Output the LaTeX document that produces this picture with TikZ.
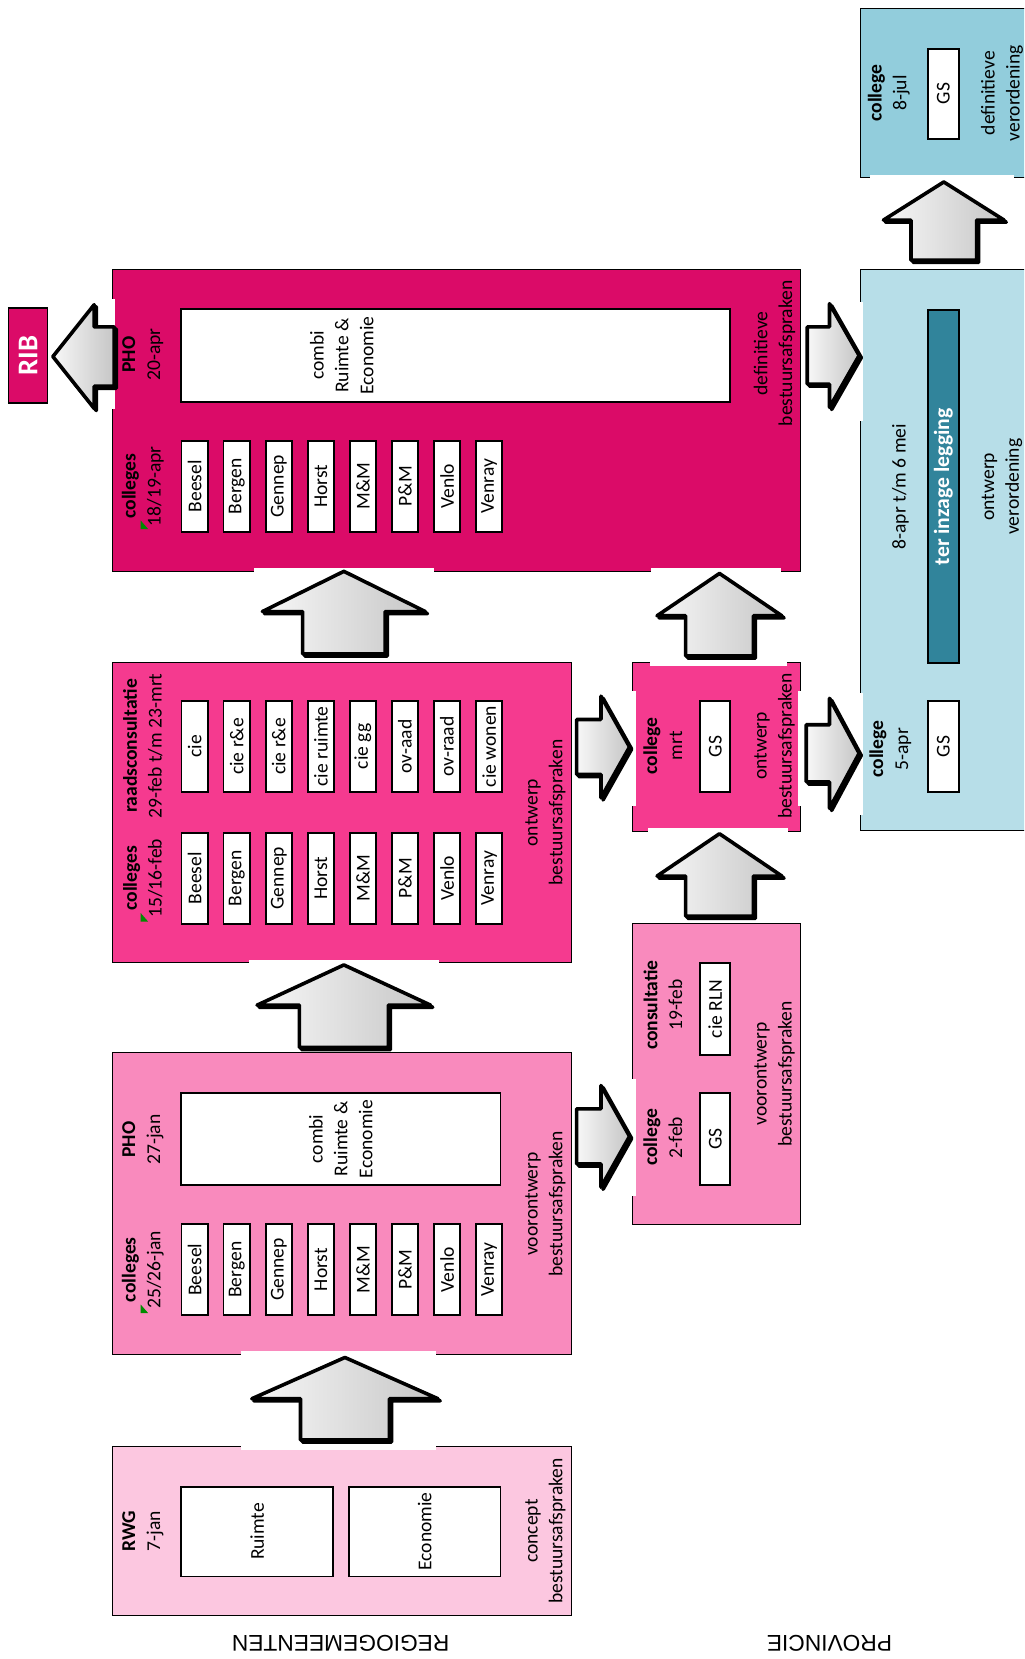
\documentclass[tikz,border=0pt]{standalone}
\usepackage{fontspec}
\setmainfont{Carlito}
\newfontfamily\headfont{Liberation Sans}
\definecolor{defmag}{RGB}{219,11,104}
\definecolor{ontwpink}{RGB}{245,58,143}
\definecolor{voorpink}{RGB}{249,138,189}
\definecolor{conceptpink}{RGB}{252,199,224}
\definecolor{ontwblue}{RGB}{183,222,232}
\definecolor{defblue}{RGB}{146,205,220}
\definecolor{inzageteal}{RGB}{49,132,155}

\begin{document}
\begin{tikzpicture}[x=1pt,y=-1pt,
  font=\fontsize{18.5}{23.5}\selectfont,
  phase/.style={draw, line width=0.9pt, inner sep=0pt},
  cell/.style={draw, fill=white, line width=1.8pt, rotate=90, inner sep=0pt,
    minimum width=86pt, minimum height=25pt},
  lbl/.style={rotate=90, align=center, inner sep=0pt},
  blockarrow/.style={draw, line width=3.4pt, line join=round,
    left color=gray!6, right color=gray!45},
  arrowshadow/.style={draw, fill, line width=3.4pt, line join=round, shift={(2,2)}},
  sidehead/.style={rotate=180, font=\headfont\fontsize{21.5}{24}\selectfont}]

\clip (0,0) rectangle (968,1568);

% phase blocks
\node[phase, fill=defmag, minimum width=651pt, minimum height=285pt] (defin) at (431.5,397.5) {};
\node[phase, fill=ontwpink, minimum width=434pt, minimum height=284pt] (ontw) at (323,768) {};
\node[phase, fill=voorpink, minimum width=434pt, minimum height=285pt] (voor) at (323,1137.5) {};
\node[phase, fill=conceptpink, minimum width=434pt, minimum height=160pt] (concept) at (323,1447) {};
\node[phase, fill=ontwpink, minimum width=159pt, minimum height=160pt] (gsmrt) at (677.5,706) {};
\node[phase, fill=voorpink, minimum width=159pt, minimum height=284pt] (gsfeb) at (677.5,1015) {};
\node[phase, fill=ontwblue, minimum width=200pt, minimum height=530pt] (inzage) at (913,520) {};
\node[phase, fill=defblue, minimum width=200pt, minimum height=160pt] (gsjul) at (913,88) {};
\node[phase, fill=defmag, minimum width=37pt, minimum height=89pt] (rib) at (26.5,336) {};
\draw[line width=2.6pt] (rib.north west) -- (rib.north east) (rib.south west) -- (rib.south east);

% openings in the borders where the arrows pass
\foreach \xa/\ya/\xb/\yb in {240/537/410/543, 615/537/738/543, 103/283/109/387,
  810/285/816/398, 810/655/816/770, 822/165/958/171, 235/907/415/913,
  614/623/744/629, 612/783/745/789, 595/653/601/762, 754/653/760/762,
  595/1020/601/1130, 228/1277/412/1283, 228/1364/412/1370}
  \fill[white] (\xa,\ya) rectangle (\xb,\yb);

% upward arrows: centre / tip / head / shaft / head base / tail
\foreach \cx/\ty/\hw/\sw/\hb/\by in {892/172/57/31/208/246, 325/540/77/39/578/618,
  680/542/59/32/582/620, 325/912/82/42/950/990, 680/788/59/32/828/866,
  326/1283/88/42/1322/1361}
{
  \path[arrowshadow] (\cx,\ty) -- (\cx+\hw,\hb) -- (\cx+\sw,\hb) -- (\cx+\sw,\by)
    -- (\cx-\sw,\by) -- (\cx-\sw,\hb) -- (\cx-\hw,\hb) -- cycle;
  \path[blockarrow] (\cx,\ty) -- (\cx+\hw,\hb) -- (\cx+\sw,\hb) -- (\cx+\sw,\by)
    -- (\cx-\sw,\by) -- (\cx-\sw,\hb) -- (\cx-\hw,\hb) -- cycle;
}
% sideways arrows: tip / centre / head / shaft / head base / tail
\foreach \tx/\cy/\hh/\sh/\hb/\bx in {812/336/49/27/784/763, 595/706/48/26/568/545,
  812/712/52/27/784/762, 595/1074/48/26/568/545, 50/337/49/28/89/108}
{
  \path[arrowshadow] (\tx,\cy) -- (\hb,\cy-\hh) -- (\hb,\cy-\sh) -- (\bx,\cy-\sh)
    -- (\bx,\cy+\sh) -- (\hb,\cy+\sh) -- (\hb,\cy+\hh) -- cycle;
  \path[blockarrow] (\tx,\cy) -- (\hb,\cy-\hh) -- (\hb,\cy-\sh) -- (\bx,\cy-\sh)
    -- (\bx,\cy+\sh) -- (\hb,\cy+\sh) -- (\hb,\cy+\hh) -- cycle;
}

\node[lbl, text=white, font=\bfseries\fontsize{27}{30}\selectfont] (ribt) at (rib) {RIB};

% definitieve bestuursafspraken
\node[lbl] (phodef) at (135,335) {\textbf{PHO}\\20-apr};
\node[phase, fill=white, line width=1.8pt, minimum width=519pt, minimum height=88pt] (combidef) at (430.5,336) {};
\node[lbl] (combidef-t) at (323,336) {combi\\Ruimte \&\\Economie};
\node[lbl] (coldef) at (135,459.5) {\textbf{colleges}\\18/19-apr};
\node[lbl] (defin-t) at (732,334) {definitieve\\bestuursafspraken};

% ontwerp bestuursafspraken
\node[lbl] (raad) at (135,705) {\textbf{raadsconsultatie}\\29-feb t/m 23-mrt};
\node[lbl] (colontw) at (135,830) {\textbf{colleges}\\15/16-feb};
\node[lbl] (ontw-t) at (515.5,768) {ontwerp\\bestuursafspraken};

% voorontwerp bestuursafspraken
\node[lbl] (phovoor) at (135,1077) {\textbf{PHO}\\27-jan};
\node[phase, fill=white, line width=1.8pt, minimum width=302pt, minimum height=87pt] (combivoor) at (322,1076.5) {};
\node[lbl] (combivoor-t) at (322,1076.5) {combi\\Ruimte \&\\Economie};
\node[lbl] (colvoor) at (135,1200) {\textbf{colleges}\\25/26-jan};
\node[lbl] (voor-t) at (515.5,1138) {voorontwerp\\bestuursafspraken};

\foreach \g [count=\i from 0] in {Beesel,Bergen,Gennep,Horst,M\&M,P\&M,Venlo,Venray}
{
  \node[cell] (dc\i) at (184+39.75*\i,459.5) {\g};
  \node[cell] (oc\i) at (184+39.75*\i,830) {\g};
  \node[cell] (vc\i) at (184+39.75*\i,1200) {\g};
}
\foreach \g [count=\i from 0] in {cie,cie r\&e,cie r\&e,cie ruimte,cie gg,ov-aad,ov-raad,cie wonen}
  \node[cell] (rc\i) at (184+39.75*\i,705.5) {\g};

\foreach \y in {500,871,1241}
  \fill[green!55!black] (133,\y-8) -- (133,\y) -- (140,\y) -- cycle;

% concept bestuursafspraken
\node[lbl] (rwg) at (135,1447) {\textbf{RWG}\\7-jan};
\node[cell, minimum width=85pt, minimum height=144pt] (ruimte) at (243,1447.5) {Ruimte};
\node[cell, minimum width=85pt, minimum height=143pt] (economie) at (401.5,1447.5) {Economie};
\node[lbl] (concept-t) at (515.5,1447) {concept\\bestuursafspraken};

% provincie
\node[lbl] (colmrt) at (626.5,705) {\textbf{college}\\mrt};
\node[cell, minimum height=28pt] (gs1) at (676,705.5) {GS};
\node[lbl] (gsmrt-t) at (732,705) {ontwerp\\bestuursafspraken};

\node[lbl] (cons) at (626.5,950) {\textbf{consultatie}\\19-feb};
\node[cell, minimum width=87pt, minimum height=28pt] (rln) at (676,953.5) {cie RLN};
\node[lbl] (colfeb) at (626.5,1075) {\textbf{college}\\2-feb};
\node[cell, minimum width=87pt, minimum height=28pt] (gs2) at (676,1076.5) {GS};
\node[lbl] (gsfeb-t) at (732,1015) {voorontwerp\\bestuursafspraken};

\node[lbl] (termijn) at (851,460) {8-apr t/m 6 mei};
\node[draw, line width=1.8pt, fill=inzageteal, rotate=90, inner sep=0pt,
  minimum width=334pt, minimum height=29pt, text=white,
  font=\bfseries\fontsize{20.5}{24}\selectfont] (terinzage) at (891.5,460) {ter inzage legging};
\node[lbl] (inzage-t) at (947,460) {ontwerp\\verordening};
\node[lbl] (colapr) at (841.5,708) {\textbf{college}\\5-apr};
\node[cell, minimum height=29pt] (gs3) at (891.5,705.5) {GS};

\node[lbl] (coljul) at (840,88) {\textbf{college}\\8-jul};
\node[cell, minimum width=85pt, minimum height=29pt] (gs4) at (891.5,88.5) {GS};
\node[lbl] (gsjul-t) at (947,88) {definitieve\\verordening};

\node[sidehead] (regio) at (322,1553) {REGIOGEMEENTEN};
\node[sidehead] (prov) at (784,1553) {PROVINCIE};
\end{tikzpicture}
\end{document}
